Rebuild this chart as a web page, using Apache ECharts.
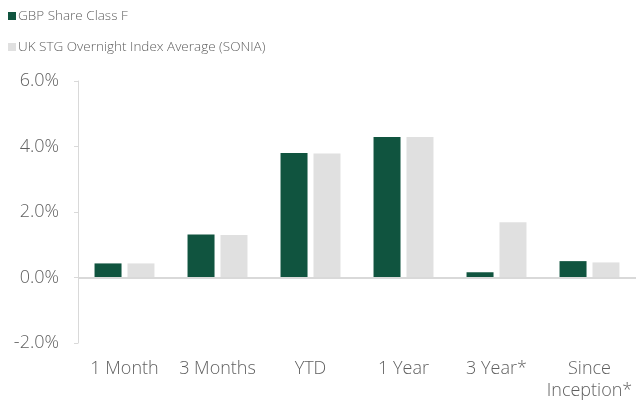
<!DOCTYPE html>
<html>
<head>
<meta charset="utf-8">
<script src="https://cdn.jsdelivr.net/npm/echarts@6/dist/echarts.min.js"></script>
<style>
  html, body { margin: 0; padding: 0; background: #fff; }
  #chart { width: 637px; height: 402px; }
</style>
</head>
<body>
<div id="chart"></div>
<script>
// Performance periods and returns (%)
const categories = ['1 Month', '3 Months', 'YTD', '1 Year', '3 Year*', 'Since\nInception*'];
const shareClassName = 'GBP Share Class F';
const benchmarkName = 'UK STG Overnight Index Average (SONIA)';
const shareClassValues = [0.43, 1.31, 3.80, 4.29, 0.16, 0.50];
const benchmarkValues = [0.43, 1.30, 3.79, 4.29, 1.69, 0.46];
const yTicks = { min: -2, max: 6, interval: 2 };

const FONT = 'Open Sans';
const WEIGHT = 300;
const TEXT = '#5f5f5f';
const GREEN = '#10543f';
const GREY = '#e0e0e0';

const chart = echarts.init(document.getElementById('chart'), null, { renderer: 'canvas' });
chart.setOption({
  animation: false,
  textStyle: { fontFamily: FONT },
  legend: {
    orient: 'vertical',
    left: 3,
    top: 4,
    itemWidth: 8,
    itemHeight: 8,
    itemGap: 17,
    icon: 'rect',
    textStyle: { fontFamily: FONT, fontWeight: WEIGHT, fontSize: 13.5, color: TEXT, padding: [0, 0, 0, -3] },
    data: [shareClassName, benchmarkName]
  },
  grid: { left: 78, right: 1, top: 81, bottom: 57 },
  xAxis: {
    type: 'category',
    data: categories,
    axisLine: { show: false, onZero: false },
    axisTick: { show: false },
    axisLabel: { fontFamily: FONT, fontWeight: WEIGHT, fontSize: 18, color: TEXT, margin: 15, lineHeight: 22, interval: 0 }
  },
  yAxis: {
    type: 'value',
    min: yTicks.min,
    max: yTicks.max,
    interval: yTicks.interval,
    axisLine: { show: true, lineStyle: { color: '#d9d9d9', width: 1 } },
    axisTick: { show: true, inside: false, length: 4, lineStyle: { color: '#d9d9d9' } },
    splitLine: { show: false },
    axisLabel: {
      fontFamily: FONT, fontWeight: WEIGHT, fontSize: 18, color: TEXT, margin: 19,
      formatter: v => v.toFixed(1) + '%'
    }
  },
  series: [
    {
      name: shareClassName,
      type: 'bar',
      data: shareClassValues,
      itemStyle: { color: GREEN },
      barWidth: 27,
      barGap: '22%',
      markLine: {
        silent: true,
        symbol: 'none',
        label: { show: false },
        lineStyle: { color: '#d9d9d9', type: 'solid', width: 2 },
        data: [{ yAxis: 0 }]
      }
    },
    {
      name: benchmarkName,
      type: 'bar',
      data: benchmarkValues,
      itemStyle: { color: GREY },
      barWidth: 27
    }
  ]
});
</script>
</body>
</html>
